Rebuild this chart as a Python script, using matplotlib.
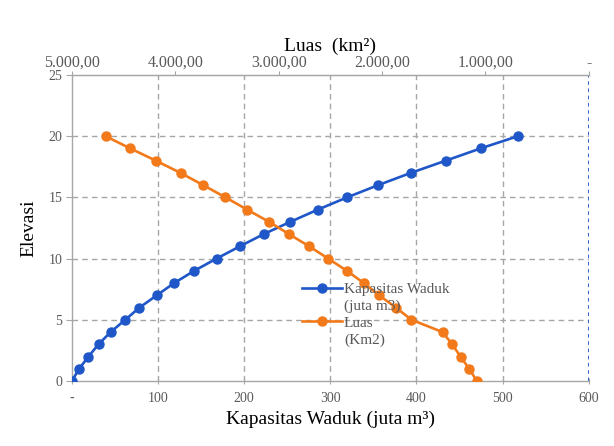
import matplotlib
matplotlib.use("Agg")
import matplotlib.pyplot as plt
from matplotlib.lines import Line2D

plt.rcParams['font.family'] = ['Liberation Serif', 'DejaVu Serif']

elevasi = [0, 1, 2, 3, 4, 5, 6, 7, 8, 9, 10, 11, 12, 13, 14, 15, 16, 17, 18, 19, 20]
kapasitas = [0, 8.5, 19.3, 31, 45, 62, 78.5, 98.6, 118.7, 142, 168, 195, 222.7, 253.5,
             285.5, 319.5, 355.5, 393.5, 434, 474.5, 517.8]
luas = [1083, 1158, 1241, 1322, 1415, 1715, 1866, 2028, 2176, 2340, 2520, 2705, 2900,
        3092, 3305, 3514, 3730, 3949, 4188, 4436, 4674]

x_ticks = [0, 100, 200, 300, 400, 500, 600]
x_ticklabels = ['-', '100', '200', '300', '400', '500', '600']
top_ticks = [5000, 4000, 3000, 2000, 1000, 0]
top_ticklabels = ['5.000,00', '4.000,00', '3.000,00', '2.000,00', '1.000,00', '-']
y_ticks = [0, 5, 10, 15, 20, 25]

blue = '#1f57c8'
orange = '#f27a1a'
gray_txt = '#595959'
grid_c = '#a6a6a6'

fig = plt.figure(figsize=(6.14, 4.46), dpi=100)
ax = fig.add_axes([0.117, 0.1457, 0.842, 0.6863])
ax.set_xlim(0, 600)
ax.set_ylim(0, 25)

ax.plot(kapasitas, elevasi, color=blue, lw=1.9, marker='o', ms=6.5, zorder=5)

ax.set_xticks(x_ticks)
ax.set_xticklabels(x_ticklabels)
ax.set_yticks(y_ticks)
ax.tick_params(axis='both', labelsize=10, colors=gray_txt, length=4, width=0.8, color=grid_c)
ax.tick_params(axis='x', direction='inout', pad=6)
ax.tick_params(axis='y', direction='out', pad=3)

# grid
for xv in [100, 200, 300, 400, 500]:
    ax.axvline(xv, color=grid_c, ls=(0, (4, 3)), lw=1.0, zorder=1)
for yv in [5, 10, 15, 20]:
    ax.axhline(yv, color=grid_c, ls=(0, (4, 3)), lw=1.0, zorder=1)
ax.axvline(600, color=blue, ls=(0, (2, 2)), lw=1.3, zorder=2)

for s in ['left', 'bottom', 'top']:
    ax.spines[s].set_color(grid_c)
    ax.spines[s].set_linewidth(1.0)
ax.spines['right'].set_visible(False)

ax.set_xlabel('Kapasitas Waduk (juta m³)', fontsize=14, labelpad=4)
ax.set_ylabel('Elevasi', fontsize=14, labelpad=8)

ax2 = ax.twiny()
ax2.set_xlim(5000, 0)
ax2.plot(luas, elevasi, color=orange, lw=1.9, marker='o', ms=6.5, zorder=5)
ax2.set_xticks(top_ticks)
ax2.set_xticklabels(top_ticklabels)
ax2.tick_params(axis='x', labelsize=11.5, colors=gray_txt, length=3, width=0.8, color=grid_c,
                direction='out', pad=0)
for s in ['left', 'bottom', 'right']:
    ax2.spines[s].set_visible(False)
ax2.spines['top'].set_color(grid_c)
ax2.set_xlabel('Luas  (km²)', fontsize=14, labelpad=3)

empty = Line2D([], [], color='none')
handles = [Line2D([], [], color=blue, lw=1.9, marker='o', ms=6.5), empty,
           Line2D([], [], color=orange, lw=1.9, marker='o', ms=6.5), empty]
leg = ax2.legend(handles, ['Kapasitas Waduk', '(juta m3)', 'Luas', '(Km2)'],
                 loc='upper left', bbox_to_anchor=(0.445, 0.322), frameon=False,
                 fontsize=11, handlelength=2.6, handletextpad=0.15, labelspacing=0.2,
                 borderaxespad=0, borderpad=0)
for t in leg.get_texts():
    t.set_color(gray_txt)

fig.savefig('out.png', dpi=100)
